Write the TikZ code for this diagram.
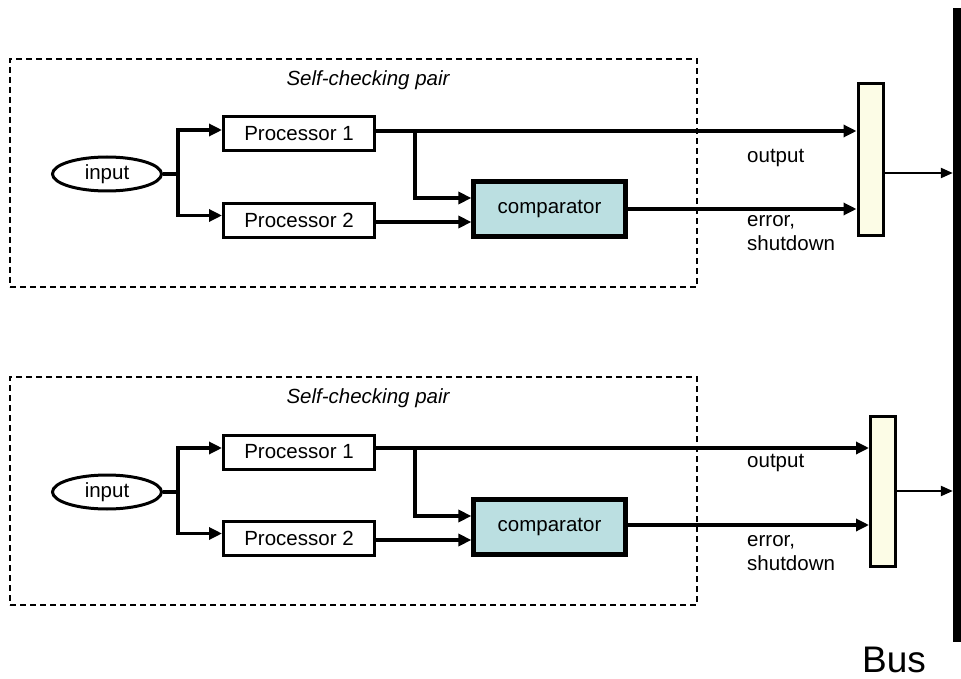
\documentclass[tikz,border=0pt]{standalone}
\usepackage{fontspec}
\setmainfont{Liberation Sans}
\usetikzlibrary{arrows.meta,shapes.geometric,calc}
\definecolor{cmpfill}{HTML}{BBDFE1}
\definecolor{bbfill}{HTML}{FCFCE6}
\begin{document}
\begin{tikzpicture}[x=1pt,y=-1pt,
  txt/.style={font=\fontsize{20.5}{24}\selectfont,inner sep=0pt},
  proc/.style={draw,line width=3pt,minimum width=151pt,minimum height=34pt,inner sep=0pt,font=\fontsize{20.5}{24}\selectfont},
  cmpbox/.style={draw,line width=4.2pt,fill=cmpfill,minimum width=152pt,minimum height=55pt,inner sep=0pt,font=\fontsize{20.5}{24}\selectfont},
  inp/.style={ellipse,draw,line width=3pt,minimum width=109pt,minimum height=34pt,inner sep=0pt,font=\fontsize{20.5}{24}\selectfont},
  bbox/.style={draw,line width=3pt,fill=bbfill,minimum width=25pt,inner sep=0pt},
  grp/.style={draw,line width=1.4pt,dash pattern=on 6pt off 4pt,inner sep=0pt},
  arr/.style={line width=3.2pt,-{Triangle[length=13pt,width=12pt]}},
  thinarr/.style={line width=2.2pt,-{Triangle[length=12pt,width=10pt]}},
  ln/.style={line width=3.2pt},
]
\useasboundingbox (0,0) rectangle (961,679);

% bus
\node[fill=black,inner sep=0pt,minimum width=8pt,minimum height=634pt] (bus) at (957,325) {};
\node[font=\fontsize{37}{40}\selectfont,inner sep=0pt] (buslbl) at (894,660) {Bus};

% ===== top pair =====
\node[grp,minimum width=687pt,minimum height=228pt] (g1) at (353.5,173) {};
\node[txt,font=\fontsize{20.5}{24}\selectfont\itshape] (t1) at (368,80) {Self-checking pair};
\node[inp] (in1) at (107,174) {input};
\node[proc] (p1a) at (299,134) {Processor 1};
\node[proc] (p2a) at (299,220.5) {Processor 2};
\node[cmpbox] (c1) at (549.5,209) {comparator};
\node[bbox,minimum height=152pt] (b1) at (870.5,160) {};
\coordinate (s1) at (178,174);
\coordinate (k1) at (415,131);
\draw[ln] (in1.east) -- (s1);
\draw[arr] (s1) |- ($(p1a.west)+(0,-4)$);
\draw[arr] (s1) |- ($(p2a.west)+(0,-5)$);
\draw[arr] ($(p1a.east)+(0,-3)$) -- (b1.west |- {$(p1a.east)+(0,-3)$});
\draw[arr] (k1) |- ($(c1.west)+(0,-11)$);
\draw[arr] ($(p2a.east)+(0,1.5)$) -- (c1.west |- {$(p2a.east)+(0,1.5)$});
\draw[arr] (c1.east) -- (b1.west |- c1.east);
\draw[thinarr] ($(b1.east)+(0,13)$) -- (bus.west |- {$(b1.east)+(0,13)$});
\node[txt,anchor=west] (o1) at (747,158) {output};
\node[txt,anchor=west,align=left] (e1) at (747,233) {error,\\shutdown};

% ===== bottom pair =====
\node[grp,minimum width=687pt,minimum height=228pt] (g2) at (353.5,491) {};
\node[txt,font=\fontsize{20.5}{24}\selectfont\itshape] (t2) at (368,398) {Self-checking pair};
\node[inp] (in2) at (107,492) {input};
\node[proc] (p1b) at (299,452) {Processor 1};
\node[proc] (p2b) at (299,538.5) {Processor 2};
\node[cmpbox] (c2) at (549.5,527) {comparator};
\node[bbox,minimum height=150pt] (b2) at (883,491) {};
\coordinate (s2) at (178,492);
\coordinate (k2) at (415,448);
\draw[ln] (in2.east) -- (s2);
\draw[arr] (s2) |- ($(p1b.west)+(0,-4)$);
\draw[arr] (s2) |- ($(p2b.west)+(0,-5)$);
\draw[arr] ($(p1b.east)+(0,-4)$) -- (b2.west |- {$(p1b.east)+(0,-4)$});
\draw[arr] (k2) |- ($(c2.west)+(0,-11)$);
\draw[arr] ($(p2b.east)+(0,1.5)$) -- (c2.west |- {$(p2b.east)+(0,1.5)$});
\draw[arr] ($(c2.east)+(0,-2)$) -- (b2.west |- {$(c2.east)+(0,-2)$});
\draw[thinarr] (b2.east) -- (bus.west |- b2.east);
\node[txt,anchor=west] (o2) at (747,463) {output};
\node[txt,anchor=west,align=left] (e2) at (747,553) {error,\\shutdown};
\end{tikzpicture}
\end{document}
